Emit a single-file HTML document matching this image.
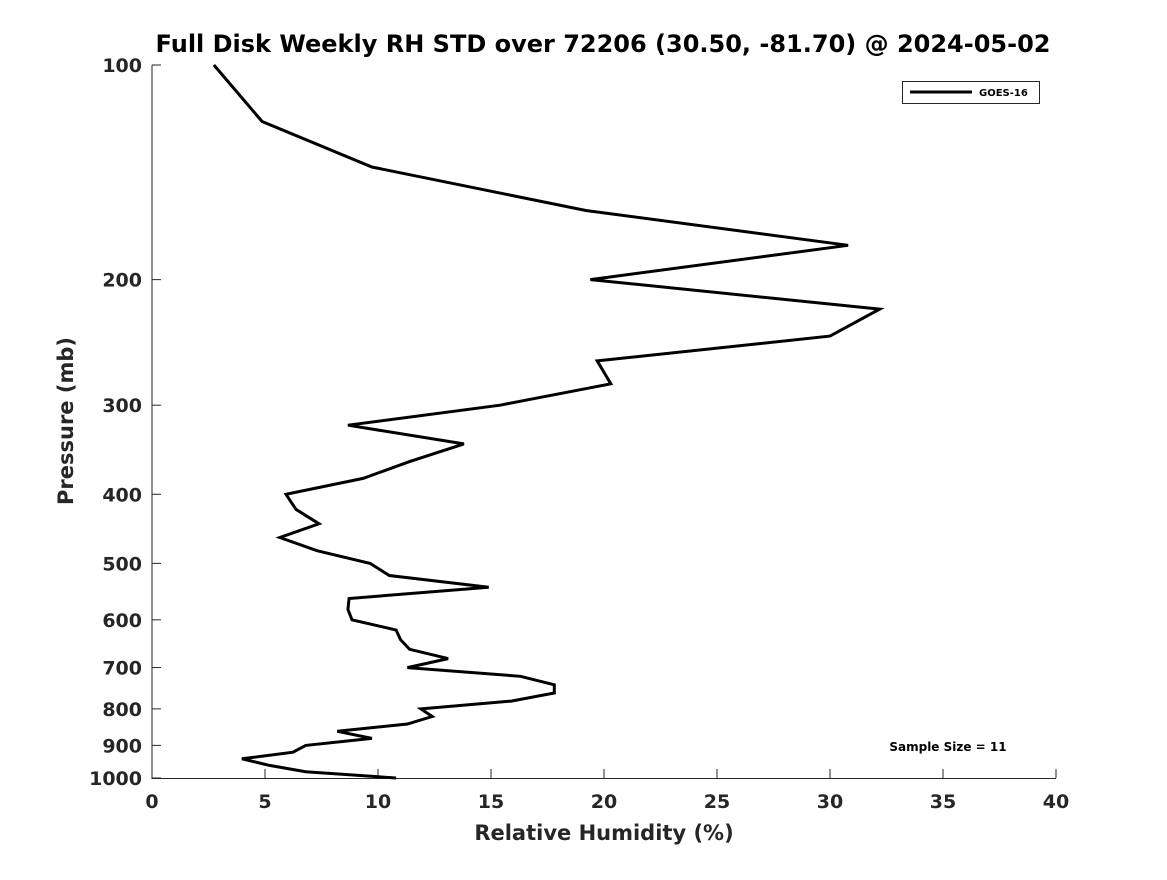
<!DOCTYPE html>
<html><head><meta charset="utf-8"><style>
body{margin:0;background:#fff;}
svg text{font-family:"DejaVu Sans","Liberation Sans",sans-serif;font-weight:bold;fill:#262626;}
</style></head><body>
<svg width="1167" height="875" id="chart">
<text x="603" y="52" text-anchor="middle" font-size="24" style="fill:#000">Full Disk Weekly RH STD over 72206 (30.50, -81.70) @ 2024-05-02</text>
<line x1="152" y1="65" x2="152" y2="779" stroke="#262626" stroke-width="1"/>
<line x1="152" y1="778.5" x2="1056" y2="778.5" stroke="#262626" stroke-width="1"/>
<g id="xt"></g><g id="yt"></g>
<text x="604" y="840" text-anchor="middle" font-size="21">Relative Humidity (%)</text>
<text transform="translate(73,421) rotate(-90)" text-anchor="middle" font-size="21">Pressure (mb)</text>
<path id="line" fill="none" stroke="#000" stroke-width="3" stroke-linejoin="miter"/>
<g>
<rect x="902.5" y="81.5" width="137" height="22" fill="#fff" stroke="#262626"/>
<line x1="910" y1="92" x2="972" y2="92" stroke="#000" stroke-width="3"/>
<text x="979" y="96" font-size="10" style="fill:#000">GOES-16</text>
</g>
<text x="948" y="751" text-anchor="middle" font-size="12" style="fill:#000">Sample Size = 11</text>
</svg>
<script>
const rhValues=[2.74,4.87,9.73,19.2,30.8,19.4,32.2,30.0,19.7,20.3,15.4,8.67,13.8,11.4,9.34,5.93,6.37,7.39,5.66,7.3,9.65,10.5,14.9,8.72,8.67,8.85,10.8,11.0,11.4,13.1,11.3,16.3,17.8,17.8,15.9,11.9,12.4,11.3,8.2,9.73,6.8,6.24,3.98,5.2,6.8,10.8];
const pressures=[100,120,139,160,179,200,220,240,260,280,300,320,340,360,380,400,420,440,460,480,500,520,540,560,580,600,620,640,660,680,700,720,740,760,780,800,820,840,860,880,900,920,940,960,980,1000];
const xTicks=[0,5,10,15,20,25,30,35,40];
const yTicks=[100,200,300,400,500,600,700,800,900,1000];
const X0=152,X1=1056,Y0=65,Y1=778;
function xs(v){return X0+(v-0)/(40-0)*(X1-X0);}
function ys(p){return Y0+Math.log10(p/100)*(Y1-Y0);}
const NS="http://www.w3.org/2000/svg";
const xt=document.getElementById('xt'),yt=document.getElementById('yt');
xTicks.forEach(t=>{
 const l=document.createElementNS(NS,'line');
 l.setAttribute('x1',xs(t));l.setAttribute('x2',xs(t));l.setAttribute('y1',778);l.setAttribute('y2',769);
 l.setAttribute('stroke','#262626');
 
 
 xt.appendChild(l);
 const s=document.createElementNS(NS,'text');
 s.setAttribute('x',xs(t));s.setAttribute('y',808);s.setAttribute('text-anchor','middle');s.setAttribute('font-size','19');
 s.textContent=t;
 
 
 xt.appendChild(s);
});
yTicks.forEach(t=>{
 const l=document.createElementNS(NS,'line');
 l.setAttribute('x1',152);l.setAttribute('x2',161);l.setAttribute('y1',ys(t));l.setAttribute('y2',ys(t));
 l.setAttribute('stroke','#262626');
 
 
 yt.appendChild(l);
 const s=document.createElementNS(NS,'text');
 s.setAttribute('x',142);s.setAttribute('y',ys(t)+7);s.setAttribute('text-anchor','end');s.setAttribute('font-size','19');
 s.textContent=t;
 
 
 yt.appendChild(s);
});
document.getElementById('line').setAttribute('d',rhValues.map((v,i)=>(i?'L':'M')+xs(v).toFixed(1)+','+ys(pressures[i]).toFixed(1)).join(' '));
</script>
</body></html>
